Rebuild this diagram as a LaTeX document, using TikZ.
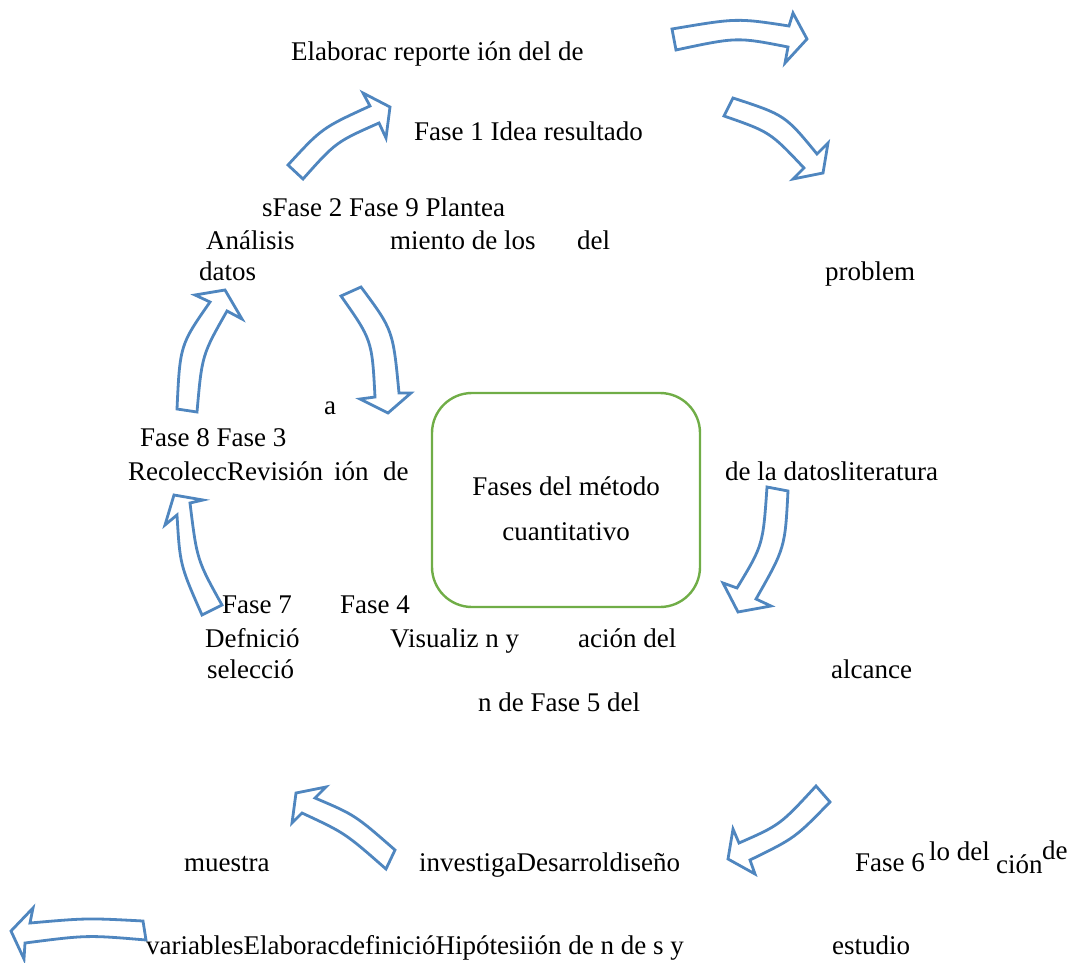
\documentclass[tikz,border=0pt]{standalone}
\usepackage{fontspec}
\setmainfont{Liberation Serif}
\definecolor{arrowblue}{HTML}{4F86BF}
\definecolor{boxgreen}{HTML}{70AD47}
\begin{document}
\begin{tikzpicture}[x=1pt,y=-1pt,
  txt/.style={anchor=base west,inner sep=0pt,font=\fontsize{27}{32}\selectfont},
  blockarrow/.style={draw=arrowblue,line width=2.8pt,fill=white,line join=miter},
  centerbox/.style={draw=boxgreen,line width=2.4pt,rounded corners=40pt,minimum width=268pt,minimum height=214pt,inner sep=0pt}]
\path[use as bounding box] (0,0) rectangle (1073,963);

% cycle of block arrows
\path[blockarrow] (672,29) .. controls (737,18) .. (789,26) -- (793,13) -- (807,39) -- (785,63) -- (788,47) .. controls (737,37) .. (676,50) -- cycle;
\path[blockarrow] (733,98) .. controls (785,115) .. (817,154) -- (828,143) -- (823,173) -- (793,179) -- (804,168) .. controls (770,132) .. (724,116) -- cycle;
\path[blockarrow] (288,165) .. controls (322,128) .. (370,106) -- (363,93) -- (390,107) -- (386,138) -- (379,123) .. controls (336,142) .. (303,179) -- cycle;
\path[blockarrow] (177,409) .. controls (180,345) .. (210,302) -- (195,295) -- (225,290) -- (242,319) -- (227,311) .. controls (202,355) .. (197,412) -- cycle;
\path[blockarrow] (341,296) .. controls (372,340) .. (375,397) -- (360,399) -- (388,413) -- (411,393) -- (399,393) .. controls (393,330) .. (361,287) -- cycle;
\path[blockarrow] (767,487) .. controls (763,545) .. (737,588) -- (723,583) -- (738,612) -- (771,606) -- (756,599) .. controls (785,548) .. (788,491) -- cycle;
\path[blockarrow] (202,615) .. controls (180,565) .. (177,515) -- (165,525) -- (174,495) -- (203,500) -- (190,503) .. controls (197,560) .. (222,605) -- cycle;
\path[blockarrow] (816,786) .. controls (780,825) .. (739,843) -- (733,829) -- (728,859) -- (755,874) -- (750,860) .. controls (795,838) .. (830,802) -- cycle;
\path[blockarrow] (395,850) .. controls (355,815) .. (315,798) -- (326,787) -- (296,793) -- (292,823) -- (302,813) .. controls (345,833) .. (386,869) -- cycle;
\path[blockarrow] (143,921) .. controls (87,918) .. (30,923) -- (33,908) -- (11,931) -- (24,959) -- (25,943) .. controls (87,935) .. (146,940) -- cycle;

% central box
\node[centerbox] (center) at (566,500) {};
\node[txt,anchor=base] (c1) at (566,495) {Fases del método};
\node[txt,anchor=base] (c2) at (566,540) {cuantitativo};

% phase texts
\node[txt] (t1) at (291,61) {Elaborac reporte ión del de};
\node[txt] (t2) at (414,141) {Fase 1 Idea resultado};
\node[txt] (t3) at (262,216) {sFase 2 Fase 9 Plantea};
\node[txt] (t4a) at (206,249) {Análisis};
\node[txt] (t4b) at (390,249) {miento de los};
\node[txt] (t4c) at (577,249) {del};
\node[txt] (t5a) at (199,280) {datos};
\node[txt] (t5b) at (825,280) {problem};
\node[txt] (t6) at (324,414) {a};
\node[txt] (t7) at (140,446) {Fase 8 Fase 3};
\node[txt] (t8a) at (128,480) {RecoleccRevisión};
\node[txt] (t8b) at (334,480) {ión};
\node[txt] (t8c) at (383,480) {de};
\node[txt] (t8d) at (725,480) {de la datosliteratura};
\node[txt] (t9a) at (222,613) {Fase 7};
\node[txt] (t9b) at (340,613) {Fase 4};
\node[txt] (t10a) at (205,647) {Defnició};
\node[txt] (t10b) at (390,647) {Visualiz n y};
\node[txt] (t10c) at (578,647) {ación del};
\node[txt] (t11a) at (207,678) {selecció};
\node[txt] (t11b) at (831,678) {alcance};
\node[txt] (t12) at (478,711) {n de Fase 5 del};
\node[txt] (t13a) at (184,871) {muestra};
\node[txt] (t13b) at (419,871) {investigaDesarroldiseño};
\node[txt] (t13c) at (855,871) {Fase 6};
\node[txt] (t13d) at (929,860) {lo del};
\node[txt] (t13e) at (996,873) {ción};
\node[txt] (t13f) at (1042,859) {de};
\node[txt] (t14a) at (146,954) {variablesElaboracdefinicióHipótesiión de n de s y};
\node[txt] (t14b) at (832,954) {estudio};
\end{tikzpicture}
\end{document}
